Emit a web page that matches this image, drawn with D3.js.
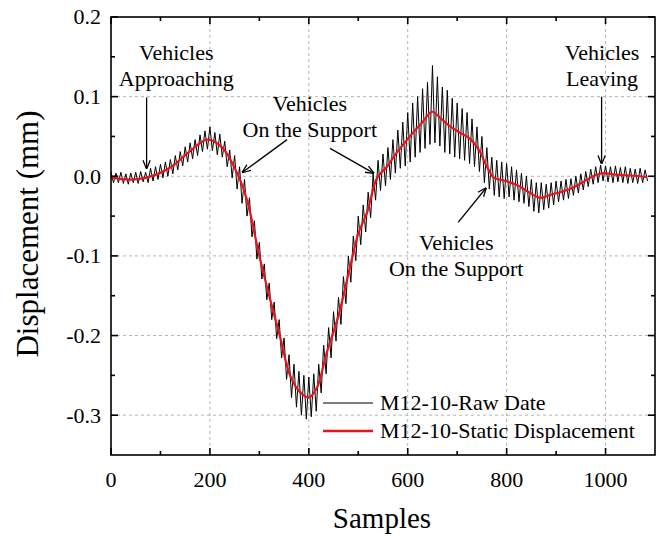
<!DOCTYPE html>
<html>
<head>
<meta charset="utf-8">
<script src="https://cdn.jsdelivr.net/npm/d3@7"></script>
<style>
  html, body { margin: 0; padding: 0; background: #fff; }
  svg { display: block; font-family: "Liberation Serif", "Times New Roman", serif; }
</style>
</head>
<body>
<svg id="chart" width="662" height="537"></svg>
<script>
// ---------- data ----------
const xTicks = [0, 200, 400, 600, 800, 1000];
const xMinorTicks = [100, 300, 500, 700, 900];
const yTicks = [0.2, 0.1, 0.0, -0.1, -0.2, -0.3];
const yMinorTicks = [0.15, 0.05, -0.05, -0.15, -0.25];
const yTickLabels = ["0.2", "0.1", "0.0", "-0.1", "-0.2", "-0.3"];

// static displacement (red), sample positions and values
const staticSamples = [0, 30, 70, 120, 155, 195, 225, 255, 275, 300, 322, 342, 362, 382, 400, 416, 436, 460, 483, 500, 518, 538, 558, 578, 595, 611, 630, 649, 668, 685, 705, 726, 745, 760, 775, 793, 821, 845, 867, 890, 914, 935, 955, 975, 995, 1020, 1050, 1084];
const staticValues = [-0.001, -0.004, -0.002, 0.011, 0.029, 0.046, 0.036, 0.004, -0.030, -0.100, -0.155, -0.202, -0.250, -0.271, -0.278, -0.266, -0.222, -0.175, -0.115, -0.072, -0.045, -0.002, 0.012, 0.030, 0.043, 0.055, 0.068, 0.081, 0.072, 0.063, 0.055, 0.047, 0.032, 0.012, -0.002, -0.005, -0.011, -0.020, -0.027, -0.023, -0.019, -0.014, -0.007, 0.000, 0.004, 0.002, 0.001, -0.001];

// raw data (black), one value every RAW_STEP samples
const RAW_STEP = 5;
const rawValues = [
  0.005, -0.008, 0.004, -0.008, 0.005, -0.009, 0.003, -0.010, 0.004, -0.008,
  0.005, -0.009, 0.006, -0.007, 0.005, -0.008, 0.010, -0.006, 0.012, -0.004,
  0.015, -0.002, 0.018, 0.000, 0.021, 0.003, 0.026, 0.008, 0.031, 0.013,
  0.037, 0.018, 0.042, 0.022, 0.046, 0.026, 0.052, 0.031, 0.057, 0.034,
  0.062, 0.032, 0.055, 0.027, 0.053, 0.024, 0.044, 0.012, 0.033, -0.002,
  0.026, -0.016, 0.012, -0.034, -0.004, -0.050, -0.027, -0.076, -0.056, -0.104,
  -0.083, -0.129, -0.110, -0.155, -0.134, -0.180, -0.158, -0.204, -0.180, -0.228,
  -0.203, -0.255, -0.224, -0.278, -0.236, -0.290, -0.245, -0.300, -0.250, -0.305,
  -0.252, -0.302, -0.248, -0.295, -0.236, -0.272, -0.212, -0.248, -0.190, -0.228,
  -0.170, -0.207, -0.152, -0.186, -0.126, -0.160, -0.100, -0.133, -0.075, -0.106,
  -0.050, -0.086, -0.036, -0.070, -0.020, -0.052, 0.003, -0.030, 0.020, -0.018,
  0.028, -0.012, 0.036, -0.004, 0.046, 0.004, 0.058, 0.010, 0.068, 0.013,
  0.080, 0.018, 0.092, 0.024, 0.100, 0.030, 0.110, 0.035, 0.118, 0.040,
  0.139, 0.042, 0.125, 0.038, 0.112, 0.030, 0.108, 0.028, 0.098, 0.024,
  0.092, 0.022, 0.085, 0.020, 0.080, 0.016, 0.072, 0.012, 0.062, 0.006,
  0.050, -0.008, 0.036, -0.016, 0.024, -0.024, 0.020, -0.026, 0.018, -0.028,
  0.016, -0.026, 0.012, -0.030, 0.008, -0.032, 0.004, -0.034, 0.000, -0.038,
  -0.004, -0.044, -0.008, -0.046, -0.008, -0.042, -0.010, -0.040, -0.008, -0.036,
  -0.006, -0.032, -0.006, -0.030, -0.004, -0.028, -0.003, -0.024, 0.000, -0.021,
  0.003, -0.017, 0.006, -0.013, 0.009, -0.010, 0.012, -0.008, 0.014, -0.006,
  0.013, -0.007, 0.012, -0.008, 0.013, -0.007, 0.011, -0.008, 0.012, -0.009,
  0.010, -0.008, 0.009, -0.009, 0.010, -0.008, 0.008, -0.006
];

const legendLabels = ["M12-10-Raw Date", "M12-10-Static Displacement"];
const seriesColors = ["#000000", "#e8141c"];

// annotations: text lines anchored at data coordinates, with arrows (data coords)
const annotations = [
  { lines: ["Vehicles", "Approaching"], x: 132, y: 0.146, arrow: [[72, 0.099], [72, 0.010]] },
  { lines: ["Vehicles", "On the Support"], x: 402, y: 0.082, arrow: [[356, 0.046], [266, 0.005]] },
  { lines: ["Vehicles", "On the Support"], x: 698, y: -0.093, arrow: [[702, -0.058], [758, -0.015]] },
  { lines: ["Vehicles", "Leaving"], x: 993, y: 0.146, arrow: [[992, 0.100], [992, 0.016]] },
  { lines: [], x: 0, y: 0, arrow: [[443, 0.035], [531, 0.004]] }
];

// ---------- layout ----------
const svg = d3.select("#chart");
const margin = { left: 111, top: 17, right: 7, bottom: 82 };
const W = 662, H = 537;
const plotW = W - margin.left - margin.right;
const plotH = H - margin.top - margin.bottom;

const x = d3.scaleLinear().domain([0, 1100]).range([0, plotW]);
const y = d3.scaleLinear().domain([-0.35, 0.2]).range([plotH, 0]);

const g = svg.append("g").attr("transform", `translate(${margin.left},${margin.top})`);

// grid
g.append("g").selectAll("line").data(xTicks.filter(d => d > 0)).join("line")
  .attr("x1", d => x(d)).attr("x2", d => x(d)).attr("y1", 0).attr("y2", plotH)
  .attr("stroke", "#b4b4b4").attr("stroke-width", 1).attr("stroke-dasharray", "3,3");
g.append("g").selectAll("line").data(yTicks.filter(d => d < 0.2)).join("line")
  .attr("x1", 0).attr("x2", plotW).attr("y1", d => y(d)).attr("y2", d => y(d))
  .attr("stroke", "#b4b4b4").attr("stroke-width", 1).attr("stroke-dasharray", "3,3");

// data lines
const rawData = rawValues.map((v, i) => [i * RAW_STEP, v]);
const staticData = staticSamples.map((s, i) => [s, staticValues[i]]);

g.append("path").datum(rawData)
  .attr("fill", "none").attr("stroke", seriesColors[0]).attr("stroke-width", 1)
  .attr("d", d3.line().x(d => x(d[0])).y(d => y(d[1])));

g.append("path").datum(staticData)
  .attr("fill", "none").attr("stroke", seriesColors[1]).attr("stroke-width", 2.2)
  .attr("d", d3.line().curve(d3.curveCatmullRom.alpha(0.5)).x(d => x(d[0])).y(d => y(d[1])));

// axes (ticks inward on all four sides)
const fontTick = 22;
function tickLines(sel, data, kind, len) {
  sel.append("g").selectAll("line").data(data).join("line")
    .attr("x1", d => kind === "bottom" || kind === "top" ? x(d) : (kind === "left" ? 0 : plotW))
    .attr("x2", d => kind === "bottom" || kind === "top" ? x(d) : (kind === "left" ? len : plotW - len))
    .attr("y1", d => kind === "left" || kind === "right" ? y(d) : (kind === "bottom" ? plotH : 0))
    .attr("y2", d => kind === "left" || kind === "right" ? y(d) : (kind === "bottom" ? plotH - len : len))
    .attr("stroke", "#000").attr("stroke-width", 1.6);
}
const tg = g.append("g");
["bottom", "top"].forEach(k => { tickLines(tg, xTicks, k, 7); tickLines(tg, xMinorTicks, k, 4); });
["left", "right"].forEach(k => { tickLines(tg, yTicks, k, 7); tickLines(tg, yMinorTicks, k, 4); });

// frame
g.append("rect").attr("x", 0).attr("y", 0).attr("width", plotW).attr("height", plotH)
  .attr("fill", "none").attr("stroke", "#000").attr("stroke-width", 1.6);

// tick labels
g.append("g").selectAll("text").data(xTicks).join("text")
  .attr("x", d => x(d)).attr("y", plotH + 32)
  .attr("text-anchor", "middle").attr("font-size", fontTick).text(d => d);
g.append("g").selectAll("text").data(yTicks).join("text")
  .attr("x", -10).attr("y", d => y(d)).attr("dy", "0.34em")
  .attr("text-anchor", "end").attr("font-size", fontTick).text((d, i) => yTickLabels[i]);

// axis titles
svg.append("text").attr("x", margin.left + plotW / 2 - 1).attr("y", 528)
  .attr("text-anchor", "middle").attr("font-size", 29).text("Samples");
svg.append("text").attr("transform", `translate(38,234) rotate(-90)`)
  .attr("text-anchor", "middle").attr("font-size", 31).text("Displacement (mm)");

// arrow marker
svg.append("defs").append("marker").attr("id", "arr")
  .attr("viewBox", "0 0 10 10").attr("refX", 9).attr("refY", 5)
  .attr("markerWidth", 9).attr("markerHeight", 9).attr("orient", "auto")
  .attr("markerUnits", "userSpaceOnUse")
  .append("path").attr("d", "M0,1 L10,5 L0,9").attr("fill", "none").attr("stroke", "#000").attr("stroke-width", 1.4);

// annotations
const ag = g.append("g");
annotations.forEach(a => {
  a.lines.forEach((t, i) => {
    ag.append("text").attr("x", x(a.x)).attr("y", y(a.y) + i * 26)
      .attr("text-anchor", "middle").attr("font-size", 22).text(t);
  });
  ag.append("line")
    .attr("x1", x(a.arrow[0][0])).attr("y1", y(a.arrow[0][1]))
    .attr("x2", x(a.arrow[1][0])).attr("y2", y(a.arrow[1][1]))
    .attr("stroke", "#000").attr("stroke-width", 1.3).attr("marker-end", "url(#arr)");
});

// legend
const lg = g.append("g");
legendLabels.forEach((t, i) => {
  const ly = 386 + i * 28;
  lg.append("line").attr("x1", 212).attr("x2", 262).attr("y1", ly).attr("y2", ly)
    .attr("stroke", seriesColors[i]).attr("stroke-width", i === 0 ? 1.2 : 2.4);
  lg.append("text").attr("x", 269).attr("y", ly).attr("dy", "0.33em")
    .attr("font-size", 22).text(t);
});
</script>
</body>
</html>
